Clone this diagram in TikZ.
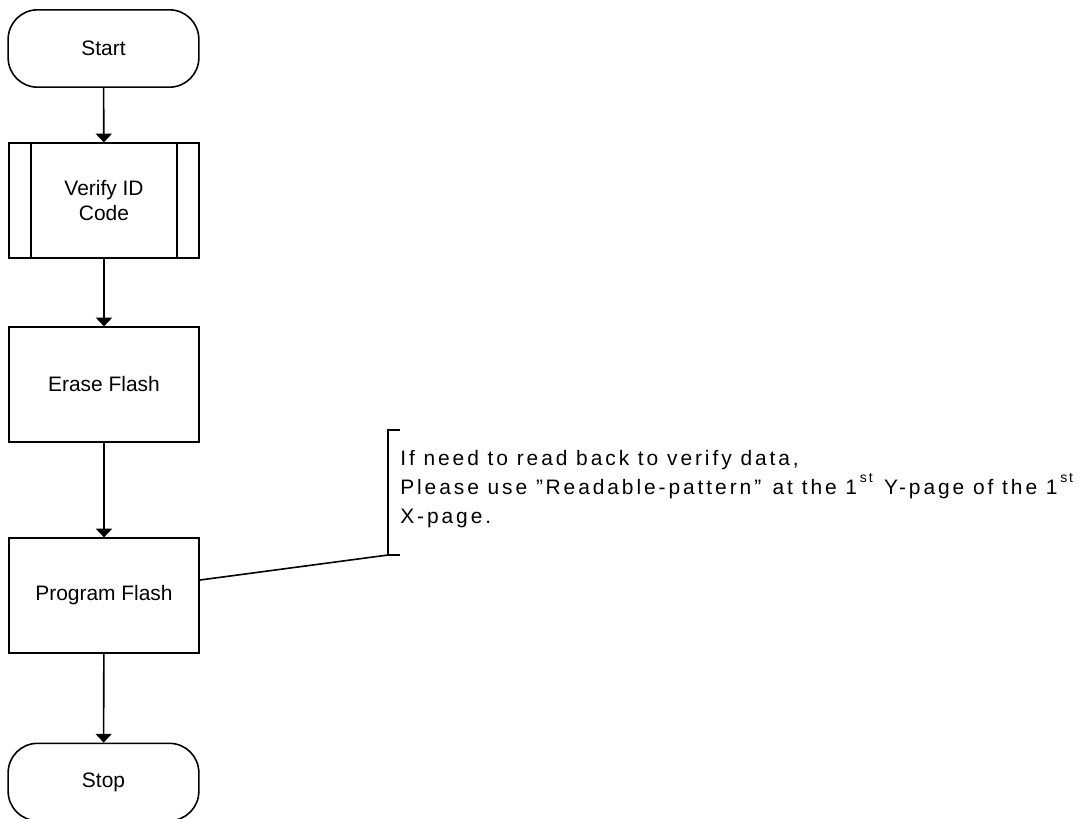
\documentclass[tikz,border=0pt]{standalone}
\usepackage{fontspec}
\setmainfont{Liberation Sans}
\usetikzlibrary{arrows.meta}
\newcommand\ordsup[1]{\kern2pt\raisebox{8.5pt}{\fontsize{10.5}{10.5}\selectfont #1}\kern2pt}

\begin{document}
\begin{tikzpicture}[x=0.75pt,y=-0.75pt,
		term/.style={draw,line width=1.2pt,rounded corners=22pt,minimum width=143pt,minimum height=58pt,inner sep=0pt,font=\fontsize{15.7}{19}\selectfont},
		proc/.style={draw,line width=1.2pt,minimum width=142.5pt,minimum height=86pt,inner sep=0pt,align=center,font=\fontsize{15.7}{19}\selectfont},
		flow/.style={line width=1.2pt,-{Triangle[width=12pt,length=6.5pt]}},
		memo/.style={inner sep=0pt,align=left,font=\fontsize{15.7}{21.75}\selectfont\addfontfeature{LetterSpace=14}}]
		\useasboundingbox (0,0) rectangle (1092,818);
		
		\node[term] (start) at (103.5,48.5) {Start};
		\node[proc] (vid) at (104,200.5) {Verify ID\\Code};
		\draw[line width=1.2pt] ([xshift=17.25pt]vid.north west) -- ([xshift=17.25pt]vid.south west);
		\draw[line width=1.2pt] ([xshift=-17.25pt]vid.north east) -- ([xshift=-17.25pt]vid.south east);
		\node[proc] (erase) at (104,384.5) {Erase Flash};
		\node[proc] (prog) at (104,595.5) {Program Flash};
		\node[term] (stop) at (103.5,782) {Stop};
		
		\draw[flow] (start) -- (vid);
		\draw[flow] (vid) -- (erase);
		\draw[flow] (erase) -- (prog);
		\draw[flow] (prog) -- (stop);
		
		% remark bracket
		\coordinate (brtop) at (388,430);
		\coordinate (brbot) at (388,555);
		\draw[line width=1.2pt] ([xshift=9pt]brtop) -- (brtop) -- (brbot) -- ([xshift=9pt]brbot);
		\draw[line width=1.2pt] ([yshift=11.6pt]prog.east) -- (brbot);
		\node[memo,anchor=base west] (remark) at (400,523) {If need to read back to verify data,\\Please use ”\kern2pt Readable-pattern”\kern2pt{} at the 1\ordsup{st}\ Y-page of the 1\ordsup{st}\\X-page.};
\end{tikzpicture}
\end{document}
